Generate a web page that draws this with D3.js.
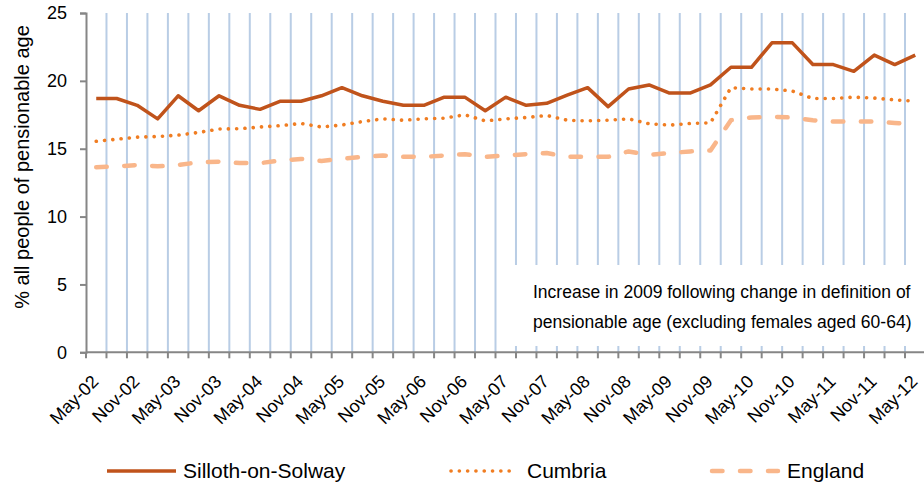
<!DOCTYPE html>
<html>
<head>
<meta charset="utf-8">
<script src="https://cdn.jsdelivr.net/npm/d3@7"></script>
<style>
  html, body { margin: 0; padding: 0; background: #fff; overflow: hidden; }
  svg { display: block; font-family: "Liberation Sans", Arial, sans-serif; }
</style>
</head>
<body>
<svg id="chart" width="924" height="487"></svg>
<script>
const categories = ["May-02","Aug-02","Nov-02","Feb-03","May-03","Aug-03","Nov-03","Feb-04","May-04","Aug-04",
  "Nov-04","Feb-05","May-05","Aug-05","Nov-05","Feb-06","May-06","Aug-06","Nov-06","Feb-07",
  "May-07","Aug-07","Nov-07","Feb-08","May-08","Aug-08","Nov-08","Feb-09","May-09","Aug-09",
  "Nov-09","Feb-10","May-10","Aug-10","Nov-10","Feb-11","May-11","Aug-11","Nov-11","Feb-12","May-12"];
const tickLabels = ["May-02","Nov-02","May-03","Nov-03","May-04","Nov-04","May-05","Nov-05","May-06","Nov-06",
  "May-07","Nov-07","May-08","Nov-08","May-09","Nov-09","May-10","Nov-10","May-11","Nov-11","May-12"];
const silloth = [18.7,18.7,18.2,17.2,18.9,17.8,18.9,18.2,17.9,18.5,
  18.5,18.9,19.5,18.9,18.5,18.2,18.2,18.8,18.8,17.8,
  18.8,18.2,18.35,18.95,19.5,18.1,19.4,19.7,19.1,19.1,
  19.7,21.0,21.0,22.8,22.8,21.2,21.2,20.7,21.9,21.2,21.9];
const cumbria = [15.55,15.7,15.85,15.9,16.0,16.2,16.45,16.47,16.6,16.7,
  16.86,16.6,16.75,17.0,17.2,17.1,17.2,17.25,17.5,17.05,
  17.2,17.3,17.45,17.1,17.05,17.1,17.2,16.84,16.74,16.86,
  16.9,19.5,19.4,19.4,19.25,18.7,18.7,18.8,18.73,18.6,18.5];
const england = [13.64,13.69,13.8,13.7,13.8,14.0,14.05,13.94,13.94,14.13,
  14.25,14.1,14.25,14.4,14.5,14.4,14.4,14.5,14.6,14.4,
  14.5,14.6,14.68,14.4,14.4,14.4,14.8,14.55,14.68,14.8,
  14.87,17.1,17.3,17.35,17.3,17.1,17.0,17.0,17.0,16.9,16.76];
const yTicks = [0,5,10,15,20,25];
const seriesNames = ["Silloth-on-Solway","Cumbria","England"];
const annotation = ["Increase in 2009 following change in definition of",
  "pensionable age (excluding females aged 60-64)"];
const yTitle = "% all people of pensionable age";

const svg = d3.select("#chart");
const mLeft = 86, mTop = 13, mBottom = 352.3;
const bandW = 20.475;
const mRight = mLeft + bandW * categories.length;

const x = d3.scaleBand().domain(categories).range([mLeft, mRight]).paddingInner(0).paddingOuter(0);
const y = d3.scaleLinear().domain([0, 25]).range([mBottom, mTop]);

// vertical gridlines at category boundaries (except axis line)
const bounds = categories.map((c) => x(c)).slice(1).concat([mRight]);
svg.append("g").selectAll("line").data(bounds).join("line")
  .attr("x1", d => d).attr("x2", d => d)
  .attr("y1", y(25)).attr("y2", y(0))
  .attr("stroke", "#b9cde5").attr("stroke-width", 2);

// annotation box (white) covering gridlines
svg.append("rect").attr("x", 508).attr("y", 265).attr("width", 430).attr("height", 81).attr("fill", "#fff");

// Y axis
const yAxis = d3.axisLeft(y).tickValues(yTicks).tickSize(6).tickPadding(13);
const gy = svg.append("g").attr("transform", `translate(${mLeft},0)`).call(yAxis);
gy.select(".domain").attr("stroke", "#868686").attr("stroke-width", 2);
gy.selectAll(".tick line").attr("stroke", "#868686").attr("stroke-width", 2);
gy.selectAll(".tick text").attr("font-size", 18).attr("fill", "#000").attr("font-family", "Liberation Sans, Arial, sans-serif");

// X axis: ticks at category boundaries
const xTickPos = categories.map(c => x(c)).concat([mRight]);
const gx = svg.append("g");
gx.append("line").attr("x1", mLeft).attr("x2", mRight).attr("y1", mBottom).attr("y2", mBottom)
  .attr("stroke", "#868686").attr("stroke-width", 2);
gx.selectAll("line.tk").data(xTickPos).join("line").attr("class", "tk")
  .attr("x1", d => d).attr("x2", d => d).attr("y1", mBottom).attr("y2", mBottom + 6)
  .attr("stroke", "#868686").attr("stroke-width", 2);
gx.selectAll("text").data(tickLabels).join("text")
  .attr("transform", d => `translate(${x(d) + x.bandwidth()/2 - 1},${mBottom + 26}) rotate(-45)`)
  .attr("text-anchor", "end").attr("dy", "0.35em")
  .attr("font-size", 18).attr("fill", "#000")
  .text(d => d);

// Y title
svg.append("text").attr("transform", `translate(29,167) rotate(-90)`)
  .attr("text-anchor", "middle").attr("font-size", 20).attr("fill", "#000").text(yTitle);

// annotation text
svg.append("g").selectAll("text").data(annotation).join("text")
  .attr("x", 533).attr("y", (d, i) => 291.5 + i * 30).attr("dy", "0.35em")
  .attr("font-size", 17.5).attr("fill", "#000").text(d => d);

// lines
const line = d3.line().x((d, i) => x(categories[i]) + x.bandwidth()/2).y(d => y(d));
const styles = [
  {data: silloth, color: "#c0531b", width: 3.5, dash: null, cap: "butt"},
  {data: cumbria, color: "#f07d22", width: 3.6, dash: "0.1 8.2", cap: "round"},
  {data: england, color: "#f9b68a", width: 4.5, dash: "10.5 17.5", cap: "round"}
];
styles.forEach(s => {
  svg.append("path").datum(s.data).attr("d", line)
    .attr("fill", "none").attr("stroke", s.color).attr("stroke-width", s.width)
    .attr("stroke-linejoin", "round").attr("stroke-linecap", s.cap)
    .attr("stroke-dasharray", s.dash);
});

// legend
const legendY = 471;
const legendItems = [
  {x1: 107, x2: 176, tx: 183},
  {x1: 451, x2: 512, tx: 527},
  {x1: 712, x2: 778, tx: 787}
];
legendItems.forEach((l, i) => {
  const s = styles[i];
  svg.append("line").attr("x1", l.x1).attr("x2", l.x2).attr("y1", legendY).attr("y2", legendY)
    .attr("stroke", s.color).attr("stroke-width", s.width).attr("stroke-linecap", s.cap)
    .attr("stroke-dasharray", s.dash);
  svg.append("text").attr("x", l.tx).attr("y", legendY).attr("dy", "0.35em")
    .attr("font-size", 21).attr("fill", "#000").text(seriesNames[i]);
});
</script>
</body>
</html>
